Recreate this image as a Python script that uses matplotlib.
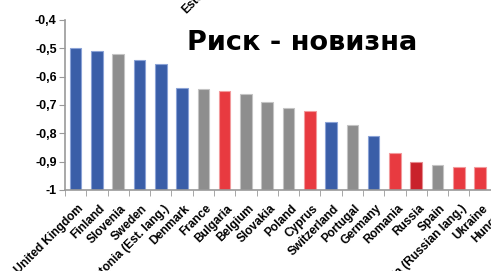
import numpy as np
import matplotlib.pyplot as plt
import matplotlib.transforms as mtransforms
from matplotlib.ticker import FixedLocator, FuncFormatter

plt.rcParams['font.family'] = ['Liberation Sans', 'DejaVu Sans']
plt.rcParams['font.weight'] = 'bold'

countries = ["United Kingdom", "Finland", "Slovenia", "Sweden", "Estonia (Est. lang.)",
             "Denmark", "France", "Bulgaria", "Belgium", "Slovakia", "Poland", "Cyprus",
             "Switzerland", "Portugal", "Germany", "Romania", "Russia", "Spain",
             "Estonia (Russian lang.)", "Ukraine", "Hungary"]
values = [-0.50, -0.51, -0.52, -0.54, -0.555, -0.64, -0.645, -0.65, -0.66, -0.69, -0.71,
          -0.72, -0.76, -0.77, -0.81, -0.87, -0.90, -0.91, -0.92, -0.92, -0.93]
groups = ["b", "b", "g", "b", "b", "b", "g", "r", "g", "g", "g", "r",
          "b", "g", "b", "r", "d", "g", "r", "r", "r"]
yticks = [-0.4, -0.5, -0.6, -0.7, -0.8, -0.9, -1.0]

colors = {"b": "#3a5ea8", "g": "#8e8e8e", "r": "#e83a40", "d": "#c9222b"}
edges = {"b": "#8aa2d6", "g": "#c4c4c4", "r": "#f29a9c", "d": "#e58a8e"}

fig = plt.figure(figsize=(4.91, 2.71), dpi=100)
# axes run past the right edge of the picture, like the cropped original
ax = fig.add_axes([65/491, 81/271, 447/491, 170/271])

x = np.arange(len(values))
base = -1.0
ax.bar(x, np.array(values) - base, bottom=base, width=0.55,
       color=[colors[g] for g in groups], edgecolor=[edges[g] for g in groups], linewidth=0.8)

ax.set_ylim(-1.0, -0.4)
ax.set_xlim(-0.5, len(values) - 0.5)
ax.yaxis.set_major_locator(FixedLocator(yticks))
ax.yaxis.set_major_formatter(FuncFormatter(lambda v, p: ("%g" % round(v, 1)).replace(".", ",")))
ax.tick_params(axis='y', labelsize=9, length=4, color="#999999", pad=2)

ax.set_xticks(x)
ax.set_xticklabels(countries, rotation=45, ha='right', rotation_mode='anchor', fontsize=8.6)
ax.tick_params(axis='x', length=0, pad=9)
shift = mtransforms.ScaledTranslation(2/100, 0, fig.dpi_scale_trans)
for lab in ax.get_xticklabels():
    lab.set_transform(lab.get_transform() + shift)
ax.set_xticks(np.arange(len(values) + 1) - 0.5, minor=True)
ax.tick_params(axis='x', which='minor', length=4, color="#999999")

for s in ['top', 'right']:
    ax.spines[s].set_visible(False)
for s in ['left', 'bottom']:
    ax.spines[s].set_color("#999999")
    ax.spines[s].set_linewidth(1.2)

fig.text(187/491, 1 - 43/271, "Риск - новизна", fontsize=19.5, fontweight='bold',
         family='DejaVu Sans', ha='left', va='center')
# leftover label of the chart above
fig.text(188/491, 1 - 16/271, "Estonia", fontsize=8.6, fontweight='bold', rotation=45,
         ha='left', va='bottom', rotation_mode='anchor')

fig.savefig("out.png", dpi=100)
